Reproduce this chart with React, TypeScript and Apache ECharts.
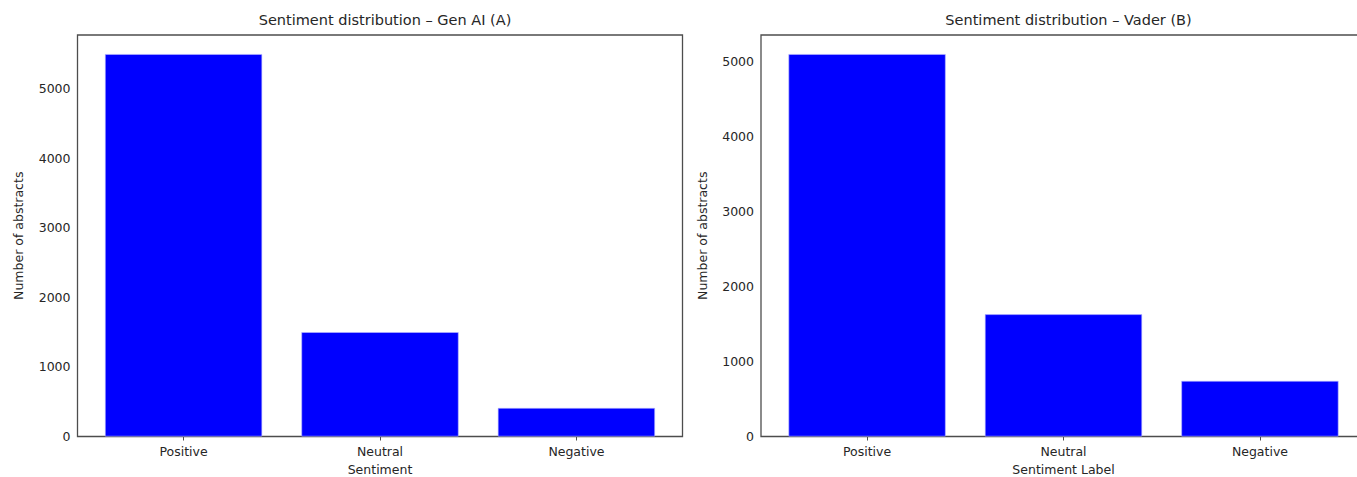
import React, { useEffect, useRef } from "react";
import * as echarts from "echarts";

const categories = ["Positive", "Neutral", "Negative"];
const genAiValues = [5500, 1500, 410];
const vaderValues = [5100, 1630, 741];
const yTicks = [0, 1000, 2000, 3000, 4000, 5000];
const titles = ["Sentiment distribution – Gen AI (A)", "Sentiment distribution – Vader (B)"];
const xNames = ["Sentiment", "Sentiment Label"];
const yName = "Number of abstracts";

const FONT = "DejaVu Sans";
const TXT = "#262626";
const LINE = "#4d4d4d";

export default function App() {
  const ref = useRef<HTMLDivElement>(null);
  useEffect(() => {
    document.body.style.margin = "0";
    document.body.style.overflow = "hidden";
    const chart = echarts.init(ref.current!, null, { renderer: "svg" });
    const gridW = 605;
    const unit = gridW / 3.08;
    const barW = 0.8 * unit;
    const grids = [
      { left: 77.5, top: 35, width: gridW, height: 401.5 },
      { left: 761, top: 35, width: gridW, height: 401.5 },
    ];
    const series = [genAiValues, vaderValues];
    const maxes = [Math.max(...genAiValues) * 1.05, Math.max(...vaderValues) * 1.05];
    const option: any = {
      animation: false,
      backgroundColor: "#ffffff",
      title: grids.map((g, i) => ({
        text: titles[i],
        left: g.left + gridW / 2,
        top: 7,
        textAlign: "center",
        textStyle: { fontFamily: FONT, fontSize: 14.5, fontWeight: "normal", color: TXT },
      })),
      grid: grids.map((g) => ({
        ...g,
        show: true,
        outerBoundsMode: "none",
        containLabel: false,
        borderColor: LINE,
        borderWidth: 1.3,
        backgroundColor: "transparent",
      })),
      xAxis: grids.map((g, i) => ({
        type: "value",
        gridIndex: i,
        min: -0.54,
        max: 2.54,
        splitLine: { show: false },
        axisLine: { show: false },
        axisTick: {
          show: true,
          customValues: [0, 1, 2],
          length: 4,
          lineStyle: { color: LINE, width: 1 },
        },
        axisLabel: {
          customValues: [0, 1, 2],
          formatter: (v: number) => categories[Math.round(v)] ?? "",
          fontFamily: FONT,
          fontSize: 12.5,
          color: TXT,
          margin: 8,
        },
        name: xNames[i],
        nameLocation: "middle",
        nameGap: 26,
        nameTextStyle: { fontFamily: FONT, fontSize: 12.5, color: TXT },
      })),
      yAxis: grids.map((g, i) => ({
        type: "value",
        gridIndex: i,
        min: 0,
        max: maxes[i],
        splitLine: { show: false },
        axisLine: { show: false },
        axisTick: {
          show: true,
          customValues: yTicks,
          length: 4,
          lineStyle: { color: LINE, width: 1 },
        },
        axisLabel: {
          customValues: yTicks,
          formatter: (v: number) => String(v),
          fontFamily: FONT,
          fontSize: 12.5,
          color: TXT,
          margin: 7,
        },
        name: yName,
        nameLocation: "middle",
        nameGap: i === 0 ? 53 : 52,
        nameTextStyle: { fontFamily: FONT, fontSize: 12.5, color: TXT },
      })),
      series: series.map((vals, i) => ({
        type: "bar",
        xAxisIndex: i,
        yAxisIndex: i,
        barWidth: barW,
        data: vals.map((v, k) => [k, v]),
        itemStyle: { color: "#0000ff", borderColor: "#b8b8ff", borderWidth: 0.6 },
      })),
    };
    chart.setOption(option);
    return () => chart.dispose();
  }, []);
  return <div ref={ref} style={{ width: 1357, height: 477, overflow: "hidden" }} />;
}
